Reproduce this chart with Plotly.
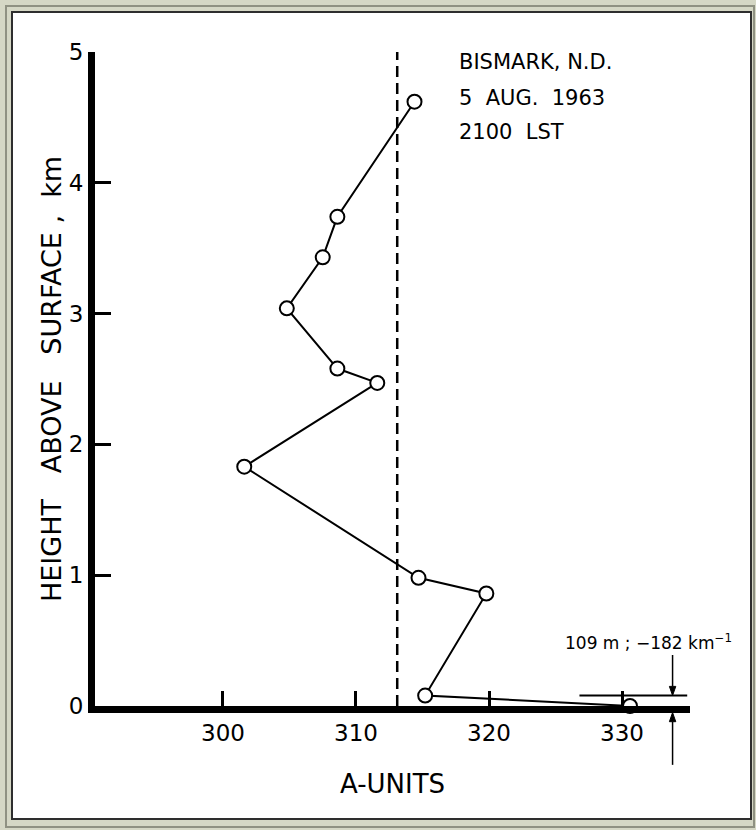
import plotly.graph_objects as go

# ---- data ----
a_units = [314.4, 308.6, 307.5, 304.8, 308.6, 311.6, 301.6, 314.7, 319.8, 315.2, 330.6]
height_km = [4.62, 3.74, 3.43, 3.04, 2.58, 2.47, 1.83, 0.98, 0.86, 0.08, 0.0]
x_ticks = [300, 310, 320, 330]
y_ticks = [0, 1, 2, 3, 4, 5]
reference_a = 313.1          # dashed vertical reference
layer_top_km = 0.08          # 109 m layer
layer_line_a = [326.8, 334.9]
arrow_a = 333.8
station_lines = ["BISMARK, N.D.", "5  AUG.  1963", "2100  LST"]
layer_label = "109 m ; −182 km<sup>−1</sup>"

FONT = "DejaVu Sans"
W, H = 756, 830
L, R, T, B = 95, 66, 52, 124
X_RANGE = [290.38, 335.11]
Y_RANGE = [0, 5]

def px(xp):
    return (xp - L) / (W - L - R)

def py(yp):
    return (H - B - yp) / (H - T - B)

def ky(km):
    # km -> paper fraction (y axis spans paper 0..1)
    return (km - Y_RANGE[0]) / (Y_RANGE[1] - Y_RANGE[0])

fig = go.Figure()

fig.add_trace(go.Scatter(
    x=a_units, y=height_km, mode="lines+markers",
    line=dict(color="black", width=2),
    marker=dict(symbol="circle", size=14, color="white",
                line=dict(color="black", width=2)),
    cliponaxis=False, showlegend=False,
))

# arrow geometry in paper y (so nothing is clipped)
dx = 0.24   # half width of arrow head, A-units
hh = 0.014  # head height in paper units
up_tail, up_head = ky(0.39), ky(layer_top_km)
lo_tail, lo_head = ky(-0.45), ky(-0.05)

shapes = [
    # outer frame
    dict(type="rect", xref="paper", yref="paper",
         x0=px(6), x1=px(754), y0=py(827), y1=py(6),
         line=dict(color="#8f9182", width=2), fillcolor="#d5d7c5", layer="below"),
    dict(type="rect", xref="paper", yref="paper",
         x0=px(12), x1=px(751), y0=py(819), y1=py(12),
         line=dict(color="#2e2e2e", width=2), fillcolor="white", layer="below"),
    # dashed reference line
    dict(type="line", xref="x", yref="y", x0=reference_a, x1=reference_a,
         y0=0, y1=5.09, line=dict(color="black", width=2.5, dash="11px,6px")),
    # layer top line
    dict(type="line", xref="x", yref="y", x0=layer_line_a[0], x1=layer_line_a[1],
         y0=layer_top_km, y1=layer_top_km, line=dict(color="black", width=2)),
    # downward arrow to the layer top
    dict(type="line", xref="x", yref="paper", x0=arrow_a, x1=arrow_a,
         y0=up_tail, y1=up_head + hh, line=dict(color="black", width=1.5)),
    dict(type="path", xref="x", yref="paper",
         path=f"M {arrow_a - dx} {up_head + hh} L {arrow_a + dx} {up_head + hh} L {arrow_a} {up_head} Z",
         fillcolor="black", line=dict(color="black", width=1)),
    # upward arrow to the surface
    dict(type="line", xref="x", yref="paper", x0=arrow_a, x1=arrow_a,
         y0=lo_tail, y1=lo_head - hh, line=dict(color="black", width=1.5)),
    dict(type="path", xref="x", yref="paper",
         path=f"M {arrow_a - dx} {lo_head - hh} L {arrow_a + dx} {lo_head - hh} L {arrow_a} {lo_head} Z",
         fillcolor="black", line=dict(color="black", width=1)),
]

annotations = []
for i, t in enumerate(station_lines):
    annotations.append(dict(x=317.6, y=[4.92, 4.65, 4.39][i], xref="x", yref="y",
                            text=t, showarrow=False, xanchor="left", yanchor="middle",
                            font=dict(family=FONT, size=21, color="black")))
annotations.append(dict(x=332.0, y=0.49, xref="x", yref="y", text=layer_label,
                        showarrow=False, xanchor="center", yanchor="middle",
                        font=dict(family=FONT, size=17, color="black")))

fig.update_layout(
    width=W, height=H,
    margin=dict(l=L, r=R, t=T, b=B),
    paper_bgcolor="#d5d7c5", plot_bgcolor="white",
    font=dict(family=FONT, color="black"),
    shapes=shapes, annotations=annotations,
    xaxis=dict(range=X_RANGE, tickvals=x_ticks, ticktext=[str(v) for v in x_ticks],
               ticks="inside", ticklen=15, tickwidth=2.5, tickcolor="black",
               showline=True, linewidth=7, linecolor="black",
               showgrid=False, zeroline=False,
               tickfont=dict(family=FONT, size=23),
               title=dict(text="A-UNITS", font=dict(family=FONT, size=26), standoff=33)),
    yaxis=dict(range=Y_RANGE, tickvals=y_ticks, ticktext=[str(v) for v in y_ticks],
               ticks="inside", ticklen=16, tickwidth=2.5, tickcolor="black",
               showline=True, linewidth=7, linecolor="black",
               showgrid=False, zeroline=False,
               tickfont=dict(family=FONT, size=23),
               title=dict(text="HEIGHT   ABOVE   SURFACE ,  km",
                          font=dict(family=FONT, size=27), standoff=2)),
)

fig.write_html("out.html", config={"displayModeBar": False},
               post_script="document.body.style.margin='0';document.body.style.overflow='hidden';")
